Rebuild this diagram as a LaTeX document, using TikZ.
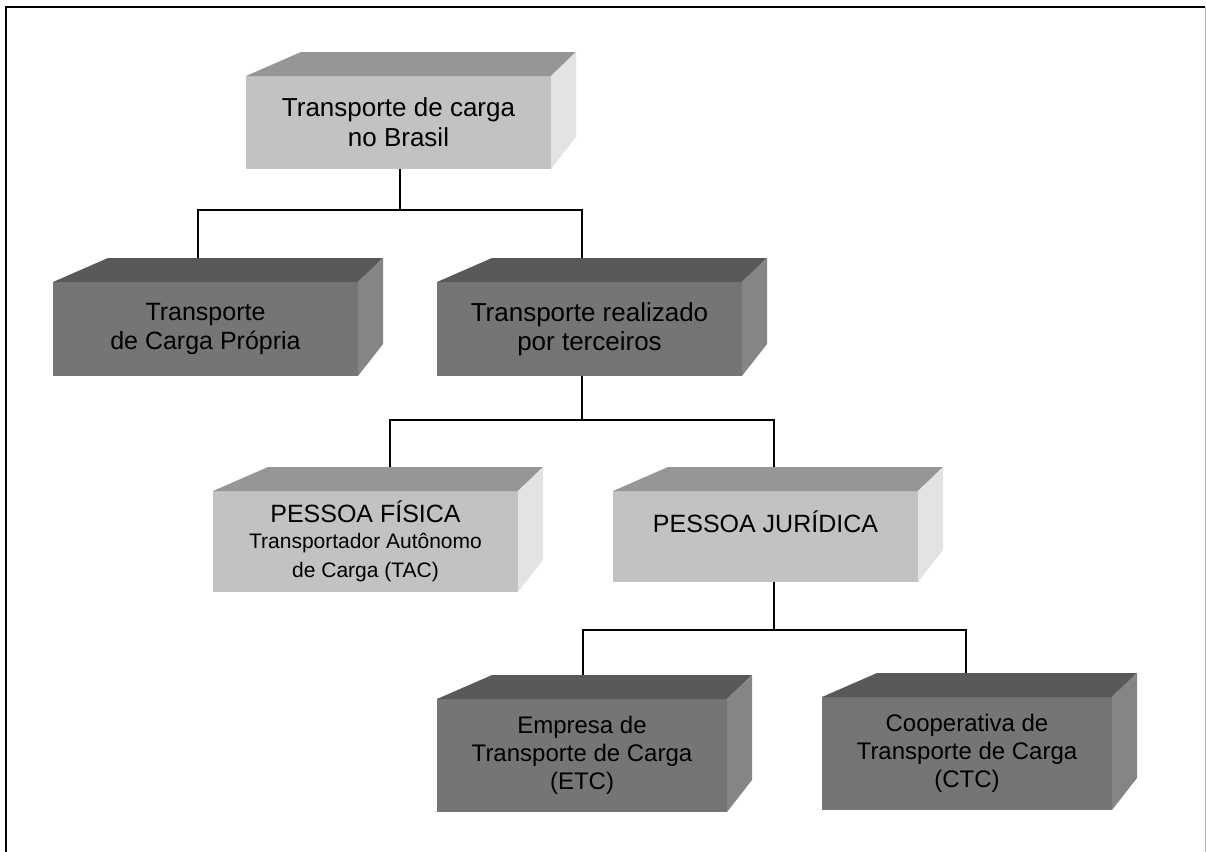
\documentclass[tikz,border=0pt]{standalone}
\usepackage{fontspec}
\setmainfont{Liberation Sans}
\definecolor{frenteA}{gray}{0.76}
\definecolor{topoA}{gray}{0.59}
\definecolor{ladoA}{gray}{0.89}
\definecolor{frenteB}{gray}{0.46}
\definecolor{topoB}{gray}{0.35}
\definecolor{ladoB}{gray}{0.52}
\begin{document}
\begin{tikzpicture}[x=0.5pt,y=-0.5pt,
  caixa/.style={inner sep=0pt, outer sep=0pt, align=center,
    minimum width=152.5pt, font=\fontsize{12.5}{14.5}\selectfont},
  clara/.style={caixa, fill=frenteA},
  escura/.style={caixa, fill=frenteB},
  linha/.style={black, line width=0.8pt}]
\useasboundingbox (0,0) rectangle (1206,852);
\draw[black, line width=1.2pt] (6,852) -- (6,7) -- (1205,7);
\draw[gray!60, line width=0.5pt] (1205,7) -- (1205,852);

% faces da frente
\node[clara, minimum height=46.5pt, font=\fontsize{13}{15}\selectfont] (b1) at (398.5,122.5) {Transporte de carga\\no Brasil};
\node[escura, minimum height=47pt] (b2) at (205.5,329) {Transporte\\de Carga Própria};
\node[escura, minimum height=47pt, font=\fontsize{13}{14.5}\selectfont] (b3) at (589.5,329) {Transporte realizado\\por terceiros};
\node[clara, minimum height=50.5pt] (b4) at (365.5,541.5) {PESSOA FÍSICA\\[-1.5pt]\fontsize{10.5}{11.5}\selectfont Transportador Autônomo\\\fontsize{10.5}{11.5}\selectfont de Carga (TAC)};
\node[clara, minimum height=45.5pt] (b5) at (765.5,536.5) {PESSOA JURÍDICA\\ \mbox{}};
\node[escura, minimum width=145pt, minimum height=56.5pt, font=\fontsize{12}{14}\selectfont] (b6) at (582,755.5) {Empresa de\\Transporte de Carga\\(ETC)};
\node[escura, minimum width=145pt, minimum height=56.5pt, font=\fontsize{12}{14}\selectfont] (b7) at (967,753.5) {Cooperativa de\\Transporte de Carga\\(CTC)};

% topo e lado
\foreach \n/\t/\s in {b1/topoA/ladoA, b2/topoB/ladoB, b3/topoB/ladoB,
    b4/topoA/ladoA, b5/topoA/ladoA, b6/topoB/ladoB, b7/topoB/ladoB} {
  \fill[\t] (\n.north west) -- ++(55,-24) -- ([shift={(25,-24)}]\n.north east) -- (\n.north east) -- cycle;
  \fill[\s] (\n.north east) -- ++(25,-24) -- ([shift={(25,-32)}]\n.south east) -- (\n.south east) -- cycle;
}

% pontos de ligacao
\coordinate (b1out) at (400,169);
\coordinate (b2in) at (198,258);
\coordinate (b3in) at (582,258);
\coordinate (b3out) at (582,376);
\coordinate (b4in) at (390,467);
\coordinate (b5in) at (774,467);
\coordinate (b5out) at (774,582);
\coordinate (b6in) at (583,675);
\coordinate (b7in) at (966,673);

\draw[linha] (b1out) -- ++(0,41) -| (b2in);
\draw[linha] (b1out) -- ++(0,41) -| (b3in);
\draw[linha] (b3out) -- ++(0,44) -| (b4in);
\draw[linha] (b3out) -- ++(0,44) -| (b5in);
\draw[linha] (b5out) -- ++(0,48) -| (b6in);
\draw[linha] (b5out) -- ++(0,48) -| (b7in);
\end{tikzpicture}
\end{document}
